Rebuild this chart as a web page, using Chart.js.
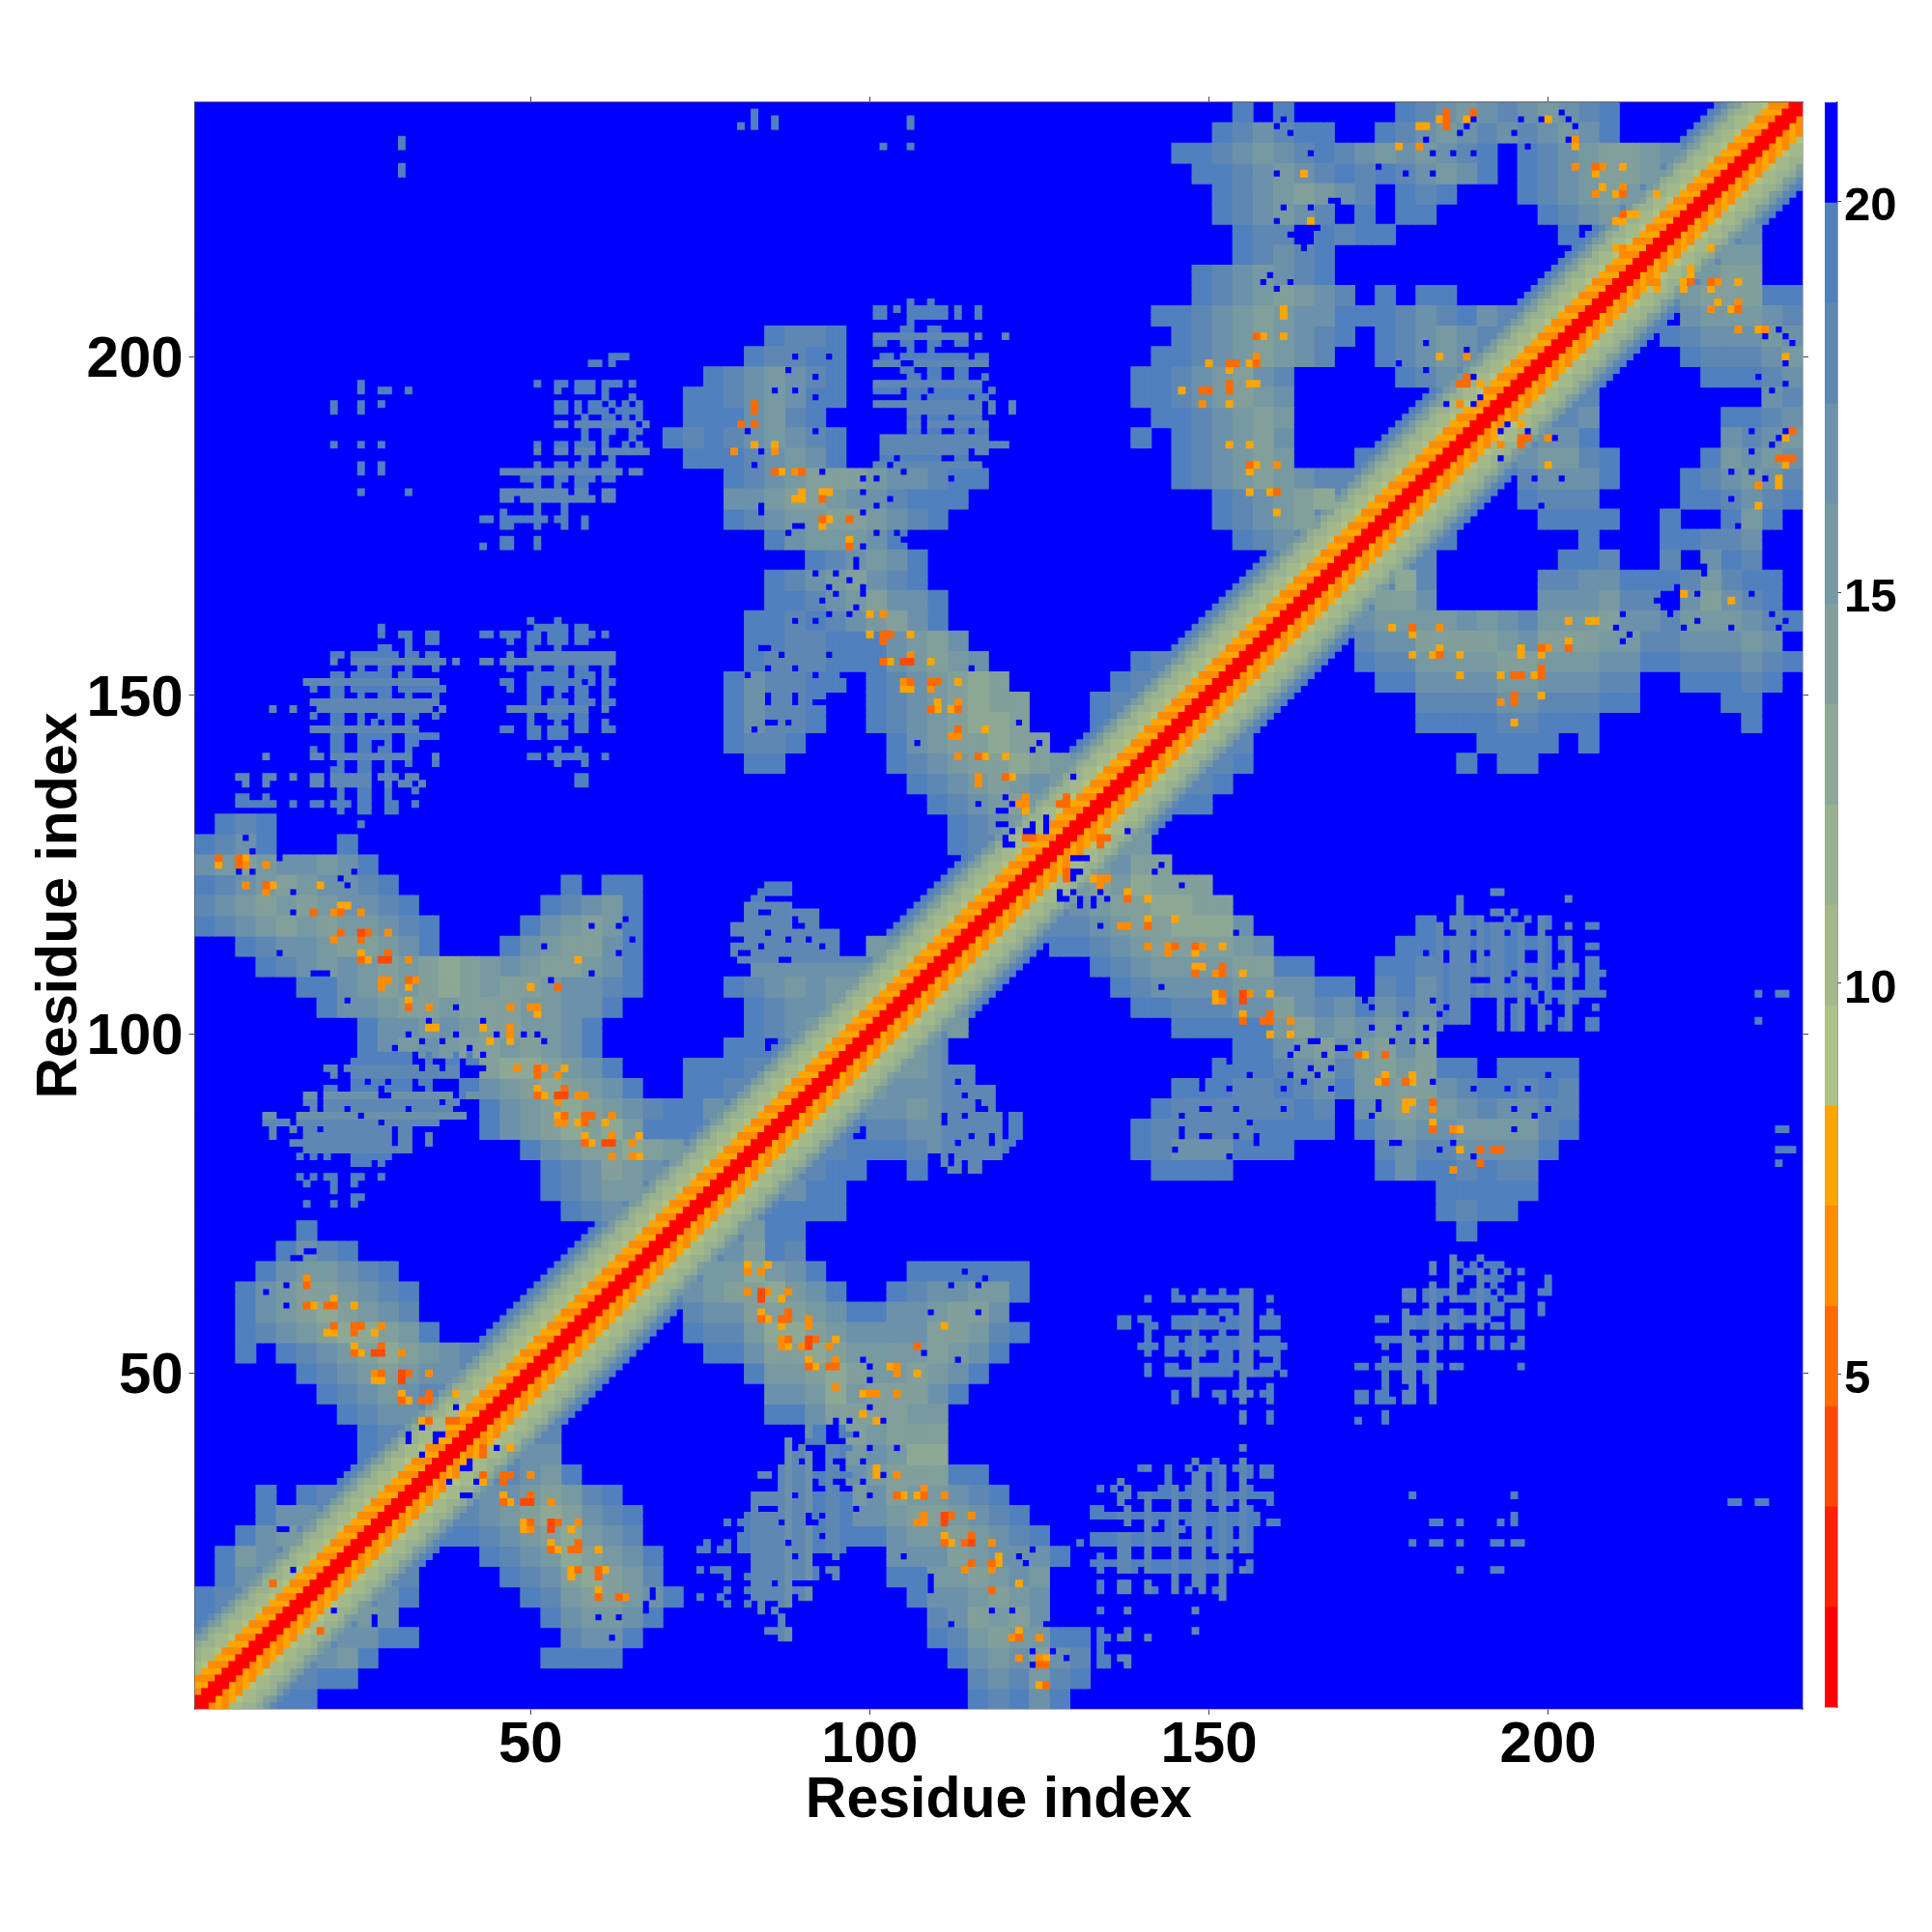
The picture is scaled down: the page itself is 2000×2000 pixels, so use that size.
<!DOCTYPE html>
<html><head><meta charset="utf-8">
<script src="https://cdn.jsdelivr.net/npm/chart.js@4"></script>
<style>html,body{margin:0;padding:0;background:#fff}canvas{position:absolute;display:block}</style>
</head><body>
<canvas id="map" width="2000" height="2000" style="left:0;top:0"></canvas>
<canvas id="bar" width="111" height="1800" style="left:1889px;top:0"></canvas>
<script>
const residueCount = 237;
const tickValues = [50,100,150,200];
const barTicks = [5,10,15,20];
const axisTitle = "Residue index";
const levelColors = ['#FF0000','#FF2200','#FF4800','#FF6A00','#FF8C00','#FFA500','#ADC285','#A3B98A','#98B18F','#8DA995','#829F9B','#7699A2','#6C91AA','#5F87B4','#5080BE','#0000FF'];
const levelEdges = [0.745,2.027,3.309,4.591,5.873,7.155,8.437,9.719,11.001,12.283,13.565,14.847,16.129,17.411,18.693,19.975,21.26];
const bandA = [1,1,5,6,5,8,8,9,9,10,12,14,15];
const bandB = [1,1,6,5,6,7,8,8,9,11,12,14,15];
// off-diagonal map read in blocks of 3 residues: row -> [[first column, hex levels]]
const rowSpans = [[],[],[],[],
[[0,"f"]],[[0,"fe"]],[[1,"fd"]],[[1,"fcd"]],[[2,"fdc"]],[[3,"fdd"]],[[3,"f"],[5,"fe"]],[],
[[8,"f"]],[[8,"fe"]],[[7,"fedd"]],[[6,"fedcde"]],[[5,"fedcbcdd"]],[[2,"f"],[4,"fedcbabcde"]],[[2,"fedcbaabcf"]],[[2,"fdcbabcde"]],
[[2,"fdcbbcdef"]],[[3,"fdccdef"]],[[4,"fdef"]],[[5,"f"]],
[[18,"fed"]],[[17,"fedcc"]],[[17,"fedbcd"]],[[16,"fdcbbabc"]],
[[14,"fdcbabacfff"]],[[14,"fdcbabcdeffd"]],[[13,"fdcbabcdf"],[24,"ffe"]],
[[14,"baabcdf"],[24,"fffe"]],[[8,"fdcdcbbcbcdf"],[26,"ff"]],[[8,"fddcdcbbccdf"],[27,"fedc"]],
[[6,"fddcbbcbbbccddf"],[27,"feddc"]],[[5,"ffdcbcbabcbbcddef"],[26,"fedcdcc"]],[[3,"fedcdcbcbabcdcbbcdf"],[31,"cde"]],
[[2,"feddcbbcdf"],[15,"fdcbbdf"],[33,"cd"]],[[0,"fedcbcbccdef"],[16,"fdcbcf"],[35,"e"]],
[[0,"edcbcbcddef"],[17,"fedcf"],[36,"f"]],[[0,"fedcbcddef"],[18,"f"],[20,"ff"],[37,"f"]],
[[0,"dcbcddcdf"]],[[0,"fedf"],[7,"f"],[37,"fe"]],[[1,"fef"],[37,"fedc"]],
[[36,"fedcbc"]],[[35,"fedcbcdc"]],
[[27,"ff"],[34,"fedcbbabcd"]],
[[26,"feef"],[34,"fdcbbabb"],[44,"f"]],
[[26,"fdeef"],[33,"fedcbaab"],[44,"f"]],
[[26,"fdeef"],[33,"fedcbabb"],[44,"fe"]],
[[26,"fdeeff"],[33,"fedcbab"],[45,"fe"]],
[[27,"feeeff"],[33,"fdcbcd"],[46,"fe"]],
[[27,"ffeeff"],[33,"fdcbd"]],
[[27,"ffefedcbdf"]],
[[28,"ffedcbddf"]],
[[28,"fedcbdef"]],[[30,"fedcdf"]],
[[28,"fdcccdf"],[51,"fed"]],
[[26,"fedccbbcdef"],[50,"fedcb"]],
[[26,"ddcbbcddefff"],[50,"fedcba"]],
[[26,"fedcbbbcddeff"],[48,"fedcbcdee"]],
[[24,"ff"],[26,"fedcdf"],[48,"fedcbc"],[57,"f"]],
[[23,"fef"],[26,"edcdef"],[46,"f"],[48,"fedcbd"]],
[[24,"ff"],[26,"fdcef"],[47,"f"],[48,"fedcbc"]],
[[24,"ff"],[26,"edcdff"],[46,"ffedcbcd"]],
[[25,"fedcdef"],[46,"ffedcbde"],[59,"fed"]],
[[27,"feeff"],[47,"ffedcbcde"],[58,"fedcd"]],
[[28,"feef"],[48,"fedcbcdef"],[58,"fedcde"]],
[[47,"ffedcbcddff"],[58,"fedefde"]],
[[49,"fedcbcde"],[58,"f"],[60,"ff"]],
[[49,"fedcdef"]],[[51,"fedef"]],
[[51,"fee"],[55,"fef"],[58,"f"],[67,"f"]],
[[50,"fedcde"],[57,"f"],[59,"ff"],[66,"fedc"]],
[[50,"fedcbcde"],[59,"fef"],[65,"fedcbc"]],
[[49,"ffedcdefefedcdf"],[65,"fedcbbc"]],
[[48,"ffedcdefedcdcdef"],[65,"fedcbbcd"]],
[[50,"fedeff"],[58,"fedcdededcdf"]],
[[51,"f"],[53,"f"],[59,"fedcdedcdef"]]];
// sparse patches read cell by cell: [row, level, x0,x1, x0,x1, ...]
const latticeOne = [[160,15,28,28],[159,15,28,28,31,32,35,36],[158,15,32,32,35,36],[157,15,28,29,32,32],[156,15,21,22,24,30,32,33,35,36],[155,14,21,21,24,37,39,39],[154,15,25,25,28,29,32,32,36,36],[153,15,21,22,24,29,31,32],[152,14,17,36],[151,15,18,18,21,22,24,29,31,37],[150,15,21,22,25,25,28,29,32,32,36,36],[149,14,18,36],[148,14,12,12,15,15,19,35,37,37],[147,15,18,18,21,22,25,25,28,29,32,33,36,36],[146,15,21,22,25,25,27,27,29,29,32,32],[145,14,18,33],[144,15,21,22,25,29,32,36],[143,15,21,22,25,26,29,29,32,33],[142,15,18,18,21,22,25,26,28,29,32,32],[141,14,11,11,18,19,21,32,36,36],[140,15,22,22,25,26,29,29,32,32,36,36],[139,15,21,22,25,26,29,29],[138,14,7,8,11,12,15,15,18,19,21,26,28,30,32,33],[137,14,8,8,11,11,18,19,21,26,29,29,31,32,34,34],[136,15,22,22,25,26,29,29,33,33],[135,15,7,8,11,11,22,22,25,26,29,29],[134,15,7,12,15,15,18,19,21,23,25,26,29,30,33,33],[133,15,22,22,25,26,29,30],[131,15,25,25]];
const latticeTwo = [[161,15,50,50,54,54],[160,15,51,55,57,58],[159,15,43,44,46,48,50,51,53,55,57,59,61,61],[158,15,47,47,50,51,53,55,57,58],[157,15,50,50,54,54],[156,14,47,47,50,62],[155,14,43,44,46,49,50,51,52,53,54,62],[154,15,47,47,51,51,54,55,57,58,61,61],[153,15,50,55,57,59,61,61],[152,15,46,47,50,53,54,57,59,59,61,62],[151,15,47,47,50,51,54,55,57,58,61,61],[150,15,50,51,54,54,57,58,61,61],[149,15,50,51,53,55,57,59,61,62],[148,14,47,53,54,58,61,61],[147,15,50,50,53,55,57,58],[146,15,50,50,54,54,57,58,61,61],[145,15,46,47,50,51,53,55,57,58,61,62],[144,15,50,51,53,55],[142,15,54,54,57,57],[141,15,50,51,53,58,61,61],[140,15,54,54,58,58],[138,15,57,58],[137,15,57,58]];
const latticeThree = [[200,15,62,64],[199,15,59,60,62,62],[196,15,51,51,54,55,57,59,61,63,65,65],[195,15,54,54,57,59,61,61],[194,15,61,61,65,65],[193,15,54,55,57,57,59,60,62,62,64,64,66,66],[192,15,54,55,57,57,59,61,63,66],[191,15,58,58,61,62,64,64,66,66],[190,14,54,55,57,65,67,67],[189,15,58,58,61,62,65,66],[188,15,58,58,61,61,65,65],[187,15,51,51,54,55,57,59,61,61,64,64,66,66],[186,14,51,51,54,55,57,59,61,67],[185,15,58,58,62,62],[184,15,51,51,54,55,57,58,61,62],[183,14,46,63,65,66],[182,15,49,51,54,55,57,59,61,62],[181,15,51,51,54,54,57,58],[180,14,46,55,57,58,61,62],[179,14,46,47,49,59,61,62],[178,15,51,51,55,55],[177,15,46,46,51,51,55,55],[176,15,43,44,46,48,49,52,54,55,58,58],[175,15,46,47,51,51,55,55,58,58],[173,15,46,47,51,51],[172,15,43,43,46,47,51,51]];
const latticeFour = [[208,15,106,106,109,109],[207,15,101,102,104,104,106,108,109,111,113,113,116,116],[206,15,101,102,106,111,113,113,116,116],[205,15,106,106],[204,15,105,106,109,110],[203,14,101,114,116,116,120,120],[202,15,101,102,105,106,109,110,113,114],[201,15,106,106,109,109],[200,15,102,103,105,114,116,117],[199,14,101,104,107,117],[198,15,105,106,109,110,113,114],[197,15,106,107,109,110,113,114,117,117],[196,14,101,116],[195,15,101,104,106,108,110,116,118,118],[194,15,106,107,109,114,116,117],[193,14,101,104,105,116,118,118,121,121],[192,14,106,116,118,118,121,121],[191,15,106,107,109,111,113,116],[190,14,106,107,109,114,115,117],[189,15,106,107,109,110,113,114,116,117],[188,14,102,117],[187,14,102,120],[186,14,102,114,116,117],[185,15,102,103,105,110,113,114],[184,14,101,116]];
const latticeFive = [[97,15,25,25,28,33,35,35,39,39,41,41],[96,15,24,32,35,35,38,39,41,42],[95,14,20,21,23,33,35,36,38,39],[94,14,21,21,24,34,35,39],[93,15,24,25,27,28,30,32,34,35],[92,15,20,21,24,27,29,32,35,35],[91,13,17,18,20,27,29,38,41,43],[90,14,17,18,20,31,32,34,35,36,38,39],[89,14,18,18,20,22,24,31,33,35,36,38],[88,13,11,12,16,24,26,36,37,40],[87,14,11,14,16,27,29,36],[86,14,12,12,15,15,17,18,20,29,31,32],[85,14,12,12,17,29,31,32,35,35],[84,14,15,29,31,32,35,35],[83,14,17,31,32,32],[82,15,16,16,18,18,20,20,24,29],[81,15,24,26,28,28],[79,15,16,16,18,18,20,21,24,25,28,28],[78,15,17,17,21,21,24,24],[77,15,21,21],[76,15,24,25],[75,15,17,17,21,21,24,24]];
const latticeSix = [[122,15,85,88],[121,15,84,88],[120,15,83,84],[119,14,82,88],[118,14,82,83,86,92],[117,14,82,88,90,92],[116,14,80,88,91,92],[115,14,80,84,86,95],[114,14,82,87,89,90,92,95],[113,14,80,83,85,92,94,95],[112,14,80,80,83,95],[111,14,81,86,89,99],[110,13,83,99],[109,13,83,99]];
const latticeSeven = [[232,15,31,31],[231,15,31,31],[228,15,31,31],[227,15,31,31],[196,15,25,25],[195,15,25,25,28,29,32,32],[193,15,21,21,25,25,28,28],[192,15,21,21,25,25],[187,15,21,21,25,25,28,28],[184,15,25,25,28,28],[183,15,25,25,28,28],[180,15,25,25,32,32],[236,15,83,83],[235,15,83,83,86,86,106,106],[234,15,81,81,83,83,86,86,106,106],[231,15,102,102,106,106]];
// single cells: x, y, level
const hotCells = [[4,126,4],[4,125,6],[7,126,4],[7,125,4],[8,126,6],[8,125,5],[11,125,5],[8,122,5],[11,122,4],[12,122,6],[11,121,5],[19,122,6],[22,119,6],[23,119,6],[18,118,4],[21,118,5],[22,118,4],[25,118,5],[22,115,4],[21,114,5],[25,115,3],[26,115,4],[25,114,4],[29,115,5],[25,112,6],[25,111,4],[26,111,6],[28,111,3],[29,111,3],[29,112,4],[32,111,5],[28,108,5],[29,108,5],[28,107,5],[32,108,4],[33,108,5],[32,107,6],[32,105,6],[32,104,4],[35,104,5],[47,104,5],[50,104,5],[51,104,5],[51,103,6],[35,101,6],[36,101,6],[43,101,6],[47,101,5],[47,100,5],[44,99,6],[47,99,6],[48,95,5],[51,95,4],[52,95,5],[51,94,4],[55,95,6],[54,94,5],[51,92,6],[51,91,4],[52,91,6],[54,91,3],[55,91,3],[55,92,4],[57,91,5],[58,91,5],[54,90,5],[54,88,6],[55,88,4],[54,87,5],[55,87,5],[58,88,4],[59,88,4],[58,87,4],[57,87,6],[62,88,5],[61,87,6],[58,85,6],[58,84,4],[59,84,6],[61,84,3],[62,84,3],[62,85,5],[65,84,5],[66,85,6],[62,82,5],[65,82,5],[66,82,6],[50,107,6],[54,107,4],[57,111,6],
[83,193,4],[83,192,4],[81,190,4],[83,190,4],[83,187,6],[86,187,6],[86,186,5],[80,186,5],[86,183,4],[87,183,6],[89,183,5],[90,183,4],[90,180,6],[89,179,6],[90,179,6],[93,180,6],[94,180,6],[93,179,4],[93,176,4],[94,176,6],[97,176,4],[93,175,6],[97,173,6],[97,172,4],[100,162,6],[102,162,5],[100,159,6],[102,159,4],[103,159,4],[102,158,4],[106,159,6],
[157,203,4],[158,203,6],[161,203,6],[161,207,6],[150,199,6],[153,199,4],[154,199,4],[156,199,6],[157,199,4],[157,200,5],[153,198,6],[146,195,6],[149,195,4],[150,195,4],[153,196,4],[153,195,4],[156,196,6],[157,196,6],[149,193,5],[153,193,6],[153,187,6],[156,187,6],[156,184,4],[157,184,6],[160,184,5],[156,183,6],[156,180,6],[159,180,6],[160,180,4],[160,177,6],
[102,155,4],[103,155,6],[105,155,3],[106,155,3],[106,156,5],[109,155,6],[105,152,5],[106,152,4],[105,151,6],[106,151,6],[109,152,4],[110,152,4],[109,151,5],[113,152,6],[110,149,6],[109,148,4],[110,148,6],[112,148,6],[113,148,4],[113,149,5],[113,145,4],[112,144,5],[113,144,5],[117,145,6],[113,141,5],[116,141,4],[117,141,6],[120,141,6],[116,138,5],[116,137,5],[120,138,4],[121,138,6],[123,135,5],[123,134,5],[122,134,5],[123,133,6],[128,134,4],[129,135,4],[129,134,4],[123,129,4],[124,129,4],
[185,236,4],[185,235,4],[185,234,4],[184,235,6],[181,234,6],[182,234,6],[189,236,4],[188,235,6],[178,231,6],[181,231,5],[164,227,6],[165,220,6],[161,206,6],[184,200,6],[188,200,5],[188,197,4],[187,196,4],[188,196,4],[190,196,6],[187,193,5],[204,232,5],[204,231,6],[200,235,6],[207,228,4],[208,228,5],[211,228,6],[204,228,5],[207,227,6],[208,225,6],[207,224,5],[210,224,6],[211,224,4],[211,225,5],[216,224,6],[211,221,4],[212,221,6],[213,221,6],[210,220,6],[211,220,6],[210,216,6],[211,216,5],[213,216,6],
[17,64,5],[17,63,4],[17,60,4],[18,60,6],[20,60,4],[21,60,4],[21,61,6],[24,60,6],[21,57,4],[20,56,6],[21,56,6],[24,57,4],[25,57,4],[24,56,4],[27,56,6],[28,57,5],[24,54,6],[24,53,4],[25,53,6],[27,53,3],[28,53,3],[28,54,4],[31,53,5],[27,50,5],[28,50,4],[27,49,6],[28,49,6],[31,50,3],[32,50,4],[31,49,3],[35,50,5],[31,47,6],[35,47,4],[31,46,4],[32,46,6],[34,46,4],[35,46,4],[39,47,6],[34,43,6],[35,43,4],[38,43,4],[39,43,4],[12,19,4]];
const holeCells = [[119,133],[120,133],[119,131],[120,131],[121,130],[123,130],[124,130],[124,131],[126,132],[126,131],[126,130],[120,129],[121,128],[120,128],[120,135],[121,134],[116,134],[130,138],[124,142],[125,143],[107,143],[115,154],[122,146],
[99,172],[98,170],[98,169],[95,168],[92,168],[94,166],[95,165],[99,166],[99,165],[97,167],[93,164],[94,162],[97,162],[98,163],[89,161],[92,161],[88,174],[101,174],[104,174],[105,173],[89,175],[90,175],[99,177],[101,178],[84,178],[84,177],[103,179],[99,180],[112,182],[105,183],[93,183],[103,184],[99,182],[101,182],[112,185],[84,186],[83,184],[92,189],[82,189],[92,194],[86,195],[89,195],[88,198],[92,197],[89,200],[94,200],
[7,124],[9,124],[9,127],[8,129],[13,126],[15,121],[22,123],[23,122],[24,124],[15,118],[13,112],[18,109],[19,109],[20,109],[23,105],[53,108],[59,109],[52,113],[59,116],[63,116],[64,117],[65,114],[63,112],[37,114],[39,104],[35,102],[32,100],[34,99],[37,99],[39,100],[41,98],[43,102],[43,97],[45,100],[49,100],[51,100],[52,99],[30,98],[33,97],[37,95],[43,95],[26,93],[29,93],[28,92],[29,91],[33,93],
[165,230],[160,227],[165,222],[161,222],[160,220],[166,219],[162,218],[168,223],[169,223],[169,216],[164,216],[160,210],[162,211],[158,211],[159,212],[181,231],[183,230],[186,230],[189,230],[179,227],[183,227],[187,233],[188,234],[182,232],[195,233],[197,231],[203,232],[189,235],[160,234],[161,235],[162,233],[196,235],[199,235],[202,236],[203,235],[204,234],[175,228],[188,201],[182,202],[189,197],[190,194],[185,193],[189,193],[182,198],[178,199],
[17,68],[15,67],[16,67],[18,68],[14,63],[11,62],[14,60],[39,45],[34,42],[32,41],[32,40],[36,41],[36,40],[37,41],[34,38],[15,21],[13,27],[14,27],
[87,156],[94,156],[89,154],[92,153],[96,153],[98,153],[85,154],[84,157],[85,157],[85,150],[85,149],[89,150],[89,149],[92,149],[93,149],[85,146],[86,146],[88,146],[83,145],[82,153],[81,155],[81,154]];

const cellGrid = [];
for (let y=0;y<=residueCount;y++) cellGrid.push(new Array(residueCount+1).fill(16));
rowSpans.forEach((spans,k)=>spans.forEach(([c0,text])=>{
  [...text].forEach((ch,i)=>{
    const lv = parseInt(ch,16), c = c0+i;
    for (let y=3*k+1;y<=Math.min(3*k+3,residueCount);y++)
      for (let x=3*c+1;x<=Math.min(3*c+3,residueCount);x++)
        if (x<y){cellGrid[y][x]=lv;cellGrid[x][y]=lv;}
  });
}));
[latticeOne,latticeTwo,latticeThree,latticeFour,latticeFive,latticeSix,latticeSeven].forEach(rows=>rows.forEach(r=>{
  for (let i=2;i<r.length;i+=2) for (let x=r[i];x<=r[i+1];x++){cellGrid[r[0]][x]=r[1];cellGrid[x][r[0]]=r[1];}
}));
for (let y=1;y<=residueCount;y++) for (let x=1;x<=residueCount;x++){
  const d=Math.abs(x-y);
  if (d<bandA.length){
    const lv=(Math.min(x,y)%2?bandA:bandB)[d];
    if (lv<cellGrid[y][x]) cellGrid[y][x]=lv;
  }
}
holeCells.forEach(([x,y])=>{cellGrid[y][x]=16;cellGrid[x][y]=16;});
hotCells.forEach(([x,y,l])=>{cellGrid[y][x]=l;cellGrid[x][y]=l;});

const byLevel = levelColors.map(()=>[]);
for (let y=1;y<=residueCount;y++) for (let x=1;x<=residueCount;x++) byLevel[cellGrid[y][x]-1].push({x,y});

const tickFont = {family:'"Liberation Sans"',size:60,weight:'bold'};
const setTicks = s=>{s.ticks=tickValues.map(v=>({value:v}));};
const cellRadius = 3.95/Math.SQRT1_2;
const tickGrid = {drawOnChartArea:false,drawTicks:true,tickLength:6,color:'#444',lineWidth:1};
const edge = {display:true,color:'#666',width:1.5};

new Chart(document.getElementById('map'),{
  type:'scatter',
  data:{datasets:byLevel.map((pts,i)=>({data:pts,backgroundColor:levelColors[i],pointStyle:'rect',pointRadius:cellRadius,pointBorderWidth:0,pointHoverRadius:0,showLine:false,order:i}))},
  options:{
    responsive:false,animation:false,devicePixelRatio:1,events:[],parsing:false,normalized:true,
    layout:{padding:0},
    plugins:{legend:{display:false},tooltip:{enabled:false},title:{display:false}},
    scales:{
      x:{type:'linear',position:'bottom',min:0.5,max:237.5,afterBuildTicks:setTicks,afterFit:s=>{s.height=231;},
        grid:tickGrid,border:edge,
        ticks:{font:tickFont,color:'#000',padding:-4,maxRotation:0,autoSkip:false},
        title:{display:true,text:axisTitle,color:'#000',font:{family:'"Liberation Sans"',size:59,weight:'bold'},padding:{top:0,bottom:100}}},
      y:{type:'linear',position:'left',min:0.5,max:237.5,afterBuildTicks:setTicks,afterFit:s=>{s.width=201.7;},
        grid:tickGrid,border:edge,
        ticks:{font:tickFont,color:'#000',padding:6,autoSkip:false,labelOffset:4},
        title:{display:true,text:axisTitle,color:'#000',font:{family:'"Liberation Sans"',size:59,weight:'bold'},padding:{top:27,bottom:0}}},
      xTop:{type:'linear',position:'top',min:0.5,max:237.5,afterBuildTicks:setTicks,afterFit:s=>{s.height=106;},
        grid:tickGrid,border:edge,ticks:{display:false}},
      yRight:{type:'linear',position:'right',min:0.5,max:237.5,afterBuildTicks:setTicks,afterFit:s=>{s.width=134;},
        grid:tickGrid,border:edge,ticks:{display:false}}
    }
  }
});

new Chart(document.getElementById('bar'),{
  type:'bar',
  data:{labels:[''],datasets:levelColors.map((c,i)=>({data:[[levelEdges[i],levelEdges[i+1]]],backgroundColor:c,borderWidth:0,barPercentage:1,categoryPercentage:1,grouped:false}))},
  options:{
    responsive:false,animation:false,devicePixelRatio:1,events:[],
    layout:{padding:{top:106,bottom:31}},
    plugins:{legend:{display:false},tooltip:{enabled:false}},
    scales:{
      x:{display:false,stacked:false},
      y:{position:'right',min:0.745,max:21.26,afterBuildTicks:s=>{s.ticks=barTicks.map(v=>({value:v}));},afterFit:s=>{s.width=98;},
        grid:{drawOnChartArea:false,drawTicks:true,tickLength:4,color:'#444'},border:{display:true,color:'#445',width:1.5},
        ticks:{font:{family:'"Liberation Sans"',size:49,weight:'bold'},color:'#000',padding:3,autoSkip:false,labelOffset:6}}
    }
  }
});
</script>
</body></html>
